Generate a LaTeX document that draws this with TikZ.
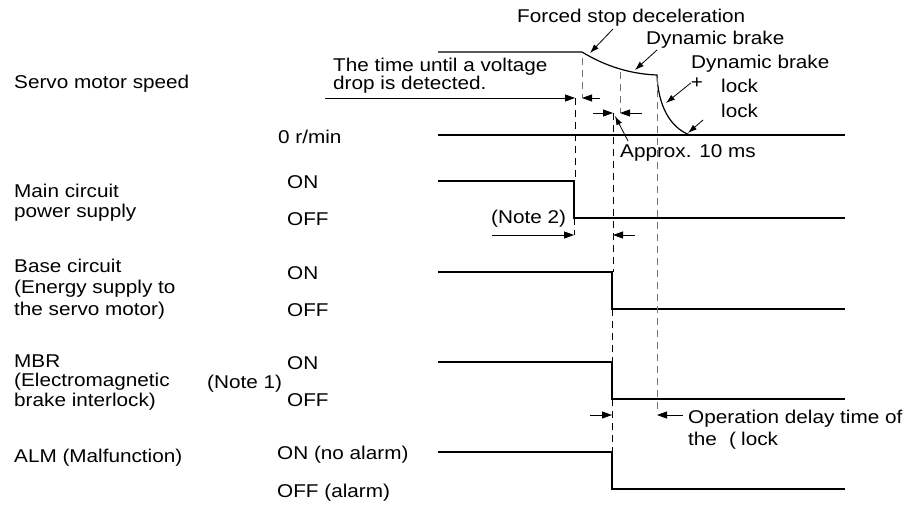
\documentclass[tikz,border=0pt]{standalone}
\usepackage{fontspec}
\setmainfont{Liberation Sans}[FakeStretch=1.12]
\usetikzlibrary{arrows.meta}

\begin{document}
\begin{tikzpicture}[x=1pt, y=-1pt,
    lbl/.style={anchor=base west, inner sep=0pt, align=left, font=\fontsize{18.5}{20}\selectfont},
    sig/.style={draw, line width=1.2pt},
    dim/.style={draw, line width=0.8pt, -{Triangle[length=10pt, width=7pt]}},
    ptr/.style={draw, line width=0.8pt, -{Latex[length=9pt, width=6pt]}},
    guide/.style={draw, line width=1pt, dash pattern=on 7pt off 5pt},
    gguide/.style={guide, draw=black!55}]

    \useasboundingbox (0,0) rectangle (920,506);

    \node [lbl] (spd) at (14,88) {Servo motor speed};
    \node [lbl] (mcp) at (14,217) {Main circuit\\power supply};
    \node [lbl, font=\fontsize{18.5}{21.5}\selectfont] (bcl) at (14,315) {Base circuit\\(Energy supply to\\the servo motor)};
    \node [lbl, font=\fontsize{18.5}{19.5}\selectfont] (mbr) at (14,406) {MBR\\(Electromagnetic\\brake interlock)};
    \node [lbl] (alm) at (14,462) {ALM (Malfunction)};

    \node [lbl] (zero) at (278,143) {0 r/min};
    \node [lbl] (mon) at (287,188) {ON};
    \node [lbl] (moff) at (287,225) {OFF};
    \node [lbl] (bon) at (287,279) {ON};
    \node [lbl] (boff) at (287,316) {OFF};
    \node [lbl] (note1) at (207,388) {(Note 1)};
    \node [lbl] (mbon) at (287,369) {ON};
    \node [lbl] (mboff) at (287,406) {OFF};
    \node [lbl] (aon) at (277,459) {ON (no alarm)};
    \node [lbl] (aoff) at (277,497) {OFF (alarm)};

    \node [lbl] (fsd) at (517,22.5) {Forced stop deceleration};
    \node [lbl] (db1) at (646,44.5) {Dynamic brake};
    \node [lbl] (db2) at (691,68) {Dynamic brake};
    \node [inner sep=0pt, font=\fontsize{18.5}{20}\selectfont] (plus) at (697,83) {+};
    \node [lbl] (lock1) at (721,92) {lock};
    \node [lbl] (lock2) at (721,117) {lock};
    \node [lbl, font=\fontsize{18.5}{18.3}\selectfont] (tvd) at (333,89.3) {The time until a voltage\\drop is detected.};
    \node [lbl] (apx) at (620,157) {Approx. 10 ms};
    \node [lbl] (note2) at (491,223) {(Note 2)};
    \node [lbl] (odt) at (688,423) {Operation delay time of};
    \node [lbl] (the) at (688,445) {the\hspace{12pt}(};
    \node [lbl] (lock3) at (741,445) {lock};

    % speed curve
    \coordinate (k1) at (582,52);
    \coordinate (k2) at (657,75);
    \coordinate (k3) at (690,135);
    \path [sig] (438,52) -- (k1) .. controls (605,66) and (630,74) .. (k2)
        .. controls (658,105) and (670,128) .. (k3);
    \path [sig] (438,135) -- (845,135);

    % signals
    \path [sig] (438,181) -- (574,181) -- (574,218) -- (845,218);
    \path [sig] (438,272) -- (612,272) -- (612,309) -- (845,309);
    \path [sig] (438,362) -- (612,362) -- (612,399) -- (845,399);
    \path [sig] (438,452) -- (612,452) -- (612,489) -- (845,489);

    % guide lines
    \path [gguide] (582,58) -- (582,98);
    \path [gguide] (620,72) -- (620,113);
    \path [gguide] (657,78) -- (657,410);
    \path [guide] (575,98) -- (575,181);
    \path [guide] (574,218) -- (574,235);
    \path [guide] (613,113) -- (613,272);
    \path [guide] (612,309) -- (612,362);
    \path [guide] (612,399) -- (612,452);

    % dimensions
    \path [dim] (325,98) -- (575,98);
    \path [dim] (600,98) -- (582,98);
    \path [dim] (593,113) -- (613,113);
    \path [dim] (642,113) -- (620,113);
    \path [dim] (492,235) -- (574,235);
    \path [dim] (635,235) -- (613,235);
    \path [dim] (590,415) -- (612,415);
    \path [dim] (683,415) -- (657,415);

    % pointers
    \coordinate (fsdt) at (613,29);
    \coordinate (fsdh) at (590,53);
    \coordinate (db1t) at (657,50);
    \coordinate (db1h) at (635,70);
    \coordinate (plush) at (666,103);
    \coordinate (lk2t) at (703,120);
    \coordinate (lk2h) at (688,133);
    \coordinate (apxt) at (628,141);
    \coordinate (apxh) at (615,116);
    \path [ptr] (fsdt) -- (fsdh);
    \path [ptr] (db1t) -- (db1h);
    \path [ptr] (plus.west) -- (plush);
    \path [ptr] (lk2t) -- (lk2h);
    \path [ptr] (apxt) -- (apxh);
\end{tikzpicture}
\end{document}
